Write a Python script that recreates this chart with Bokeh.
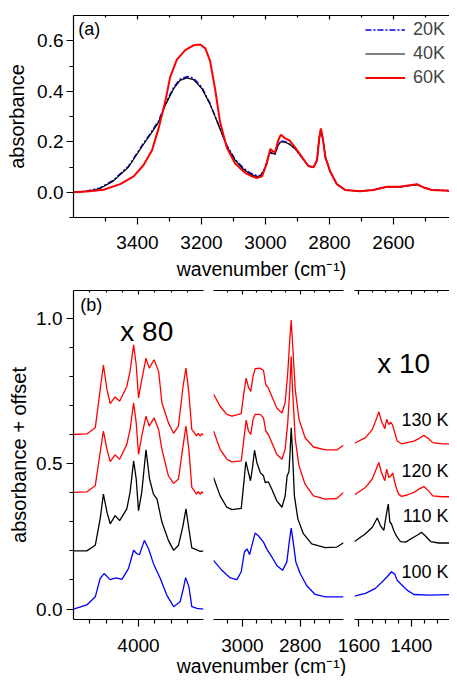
from bokeh.plotting import figure
from bokeh.layouts import column, row
from bokeh.models import Range1d, LinearAxis, FixedTicker, SingleIntervalTicker, PrintfTickFormatter, Legend, LegendItem
from bokeh.core.properties import value
from bokeh.embed import file_html
from bokeh.resources import INLINE

FONT = "Liberation Sans"

# ---------------- panel (a) data ----------------
a_wn = [3600, 3560, 3517, 3475, 3428, 3381, 3360, 3334, 3313, 3287, 3267, 3246, 3225, 3199, 3173, 3147,
        3121, 3095, 3069, 3048, 3030, 3015, 3000, 2990, 2985, 2977, 2970, 2961, 2952, 2938, 2925, 2907,
        2886, 2866, 2850, 2839, 2832, 2827, 2821, 2813, 2798, 2777, 2751, 2704, 2663, 2621, 2579, 2527,
        2506, 2480, 2400]
a_20K = [0.0, 0.004, 0.017, 0.048, 0.103, 0.195, 0.232, 0.283, 0.35, 0.415, 0.448, 0.458, 0.452, 0.416, 0.35, 0.268,
         0.186, 0.13, 0.096, 0.076, 0.067, 0.066, 0.1, 0.148, 0.158, 0.151, 0.15, 0.188, 0.203, 0.2, 0.191, 0.172,
         0.137, 0.104, 0.099, 0.127, 0.214, 0.248, 0.212, 0.14, 0.083, 0.032, 0.009, 0.004, 0.01, 0.021, 0.022, 0.031,
         0.02, 0.009, 0.005]
a_40K = [0.0, 0.003, 0.015, 0.045, 0.10, 0.19, 0.228, 0.278, 0.345, 0.41, 0.443, 0.453, 0.446, 0.411, 0.348, 0.266,
         0.183, 0.127, 0.091, 0.072, 0.063, 0.064, 0.1, 0.15, 0.16, 0.153, 0.152, 0.185, 0.2, 0.198, 0.19, 0.172,
         0.137, 0.104, 0.098, 0.127, 0.215, 0.25, 0.213, 0.139, 0.082, 0.032, 0.009, 0.004, 0.009, 0.021, 0.021, 0.03,
         0.019, 0.009, 0.005]
a_wn60 = [3600, 3550, 3506, 3454, 3412, 3381, 3355, 3334, 3313, 3298, 3277, 3251, 3225, 3204, 3188, 3173, 3157,
          3142, 3121, 3095, 3063, 3040, 3027, 3011, 2996, 2985, 2977, 2970, 2961, 2952, 2938, 2925, 2907, 2886,
          2866, 2850, 2839, 2832, 2827, 2821, 2813, 2798, 2777, 2751, 2704, 2663, 2621, 2579, 2527, 2506, 2480, 2400]
a_60K = [0.0, 0.004, 0.01, 0.032, 0.063, 0.108, 0.165, 0.253, 0.361, 0.456, 0.525, 0.563, 0.582, 0.585, 0.57, 0.519, 0.405,
         0.278, 0.177, 0.114, 0.076, 0.062, 0.056, 0.063, 0.114, 0.171, 0.162, 0.158, 0.203, 0.228, 0.213, 0.205, 0.177, 0.139,
         0.104, 0.099, 0.127, 0.215, 0.253, 0.215, 0.139, 0.082, 0.032, 0.009, 0.004, 0.009, 0.022, 0.022, 0.032, 0.019, 0.009, 0.005]
a_labels = ["20K", "40K", "60K"]

# ---------------- panel (b) data, segment 1 (x 80) ----------------
b1_wn_100 = [4200, 4159, 4133, 4118, 4106, 4087, 4069, 4051, 4031, 4015, 4005, 3997, 3982, 3969, 3954, 3933,
             3913, 3892, 3872, 3862, 3855, 3845, 3836, 3820, 3800]
b1_100 = [0.0, 0.014, 0.042, 0.105, 0.122, 0.101, 0.107, 0.102, 0.139, 0.202, 0.19, 0.187, 0.236, 0.207, 0.156, 0.105,
          0.048, 0.008, 0.025, 0.07, 0.108, 0.077, 0.008, 0.002, 0.0]
b1_wn_110 = [4200, 4159, 4133, 4118, 4108, 4097, 4087, 4072, 4058, 4036, 4026, 4015, 4007, 4000, 3990, 3977,
             3966, 3954, 3943, 3928, 3908, 3892, 3877, 3863, 3854, 3845, 3836, 3820, 3810, 3800]
b1_110 = [0.2, 0.2, 0.219, 0.31, 0.395, 0.333, 0.293, 0.321, 0.304, 0.344, 0.401, 0.509, 0.447, 0.338, 0.401, 0.547,
          0.447, 0.395, 0.378, 0.299, 0.236, 0.2015, 0.219, 0.287, 0.344, 0.276, 0.21, 0.203, 0.198, 0.2]
b1_wn_red = [4200, 4159, 4133, 4118, 4108, 4097, 4087, 4072, 4058, 4036, 4026, 4015, 4007, 4000, 3990, 3977,
             3967, 3952, 3938, 3928, 3908, 3892, 3877, 3863, 3854, 3845, 3836, 3828, 3822, 3816, 3810, 3805, 3800]
b1_120 = [0.401, 0.403, 0.424, 0.538, 0.612, 0.549, 0.507, 0.53, 0.515, 0.566, 0.617, 0.709, 0.64, 0.532, 0.594, 0.663,
          0.629, 0.657, 0.617, 0.549, 0.458, 0.432, 0.447, 0.56, 0.629, 0.549, 0.418, 0.406, 0.395, 0.404, 0.394, 0.403, 0.398]
b1_130 = [0.6, 0.602, 0.623, 0.754, 0.839, 0.754, 0.706, 0.729, 0.714, 0.765, 0.817, 0.908, 0.839, 0.726, 0.788, 0.862,
          0.828, 0.857, 0.817, 0.709, 0.64, 0.604, 0.629, 0.765, 0.828, 0.743, 0.617, 0.606, 0.595, 0.604, 0.594, 0.603, 0.598]

# ---------------- segment 2 ----------------
b2_wn_100 = [3100, 3071, 3042, 3019, 3004, 2993, 2984, 2975, 2967, 2956, 2944, 2927, 2915, 2898, 2881, 2861,
             2846, 2838, 2831, 2824, 2815, 2800, 2777, 2748, 2713, 2650]
b2_100 = [0.167, 0.133, 0.107, 0.101, 0.128, 0.196, 0.207, 0.187, 0.219, 0.261, 0.251, 0.23, 0.205, 0.179, 0.15, 0.133,
          0.162, 0.23, 0.278, 0.23, 0.162, 0.122, 0.08, 0.05, 0.042, 0.042]
b2_wn_110 = [3100, 3077, 3054, 3036, 3004, 2996, 2988, 2979, 2972, 2965, 2958, 2950, 2938, 2927, 2921, 2910,
             2898, 2881, 2863, 2852, 2845, 2839, 2835, 2831, 2827, 2820, 2808, 2789, 2760, 2713, 2673, 2650]
b2_110 = [0.452, 0.389, 0.35, 0.342, 0.346, 0.424, 0.507, 0.469, 0.441, 0.486, 0.546, 0.504, 0.469, 0.458, 0.435, 0.437,
          0.412, 0.372, 0.35, 0.389, 0.458, 0.471, 0.538, 0.623, 0.549, 0.389, 0.31, 0.259, 0.224, 0.211, 0.213, 0.228]
b2_wn_red = [3100, 3077, 3054, 3036, 3004, 2995, 2987, 2979, 2971, 2963, 2956, 2938, 2927, 2919, 2910, 2898,
             2881, 2863, 2852, 2843, 2836, 2831, 2827, 2817, 2804, 2783, 2754, 2713, 2673, 2650]
b2_120 = [0.612, 0.549, 0.515, 0.506, 0.509, 0.583, 0.649, 0.612, 0.6, 0.652, 0.669, 0.669, 0.657, 0.612, 0.6, 0.572,
          0.532, 0.515, 0.549, 0.64, 0.754, 0.868, 0.765, 0.583, 0.492, 0.429, 0.389, 0.378, 0.38, 0.401]
b2_130 = [0.739, 0.697, 0.669, 0.663, 0.672, 0.743, 0.794, 0.763, 0.748, 0.8, 0.826, 0.828, 0.82, 0.771, 0.76, 0.731,
          0.691, 0.674, 0.709, 0.811, 0.925, 0.993, 0.925, 0.754, 0.652, 0.589, 0.557, 0.547, 0.547, 0.563]

# ---------------- segment 3 (x 10) ----------------
b3_wn_100 = [1617, 1575, 1537, 1511, 1492, 1476, 1463, 1454, 1435, 1416, 1390, 1333, 1230]
b3_100 = [0.044, 0.054, 0.071, 0.094, 0.111, 0.128, 0.12, 0.099, 0.082, 0.065, 0.05, 0.048, 0.05]
b3_wn_110 = [1617, 1575, 1549, 1530, 1518, 1505, 1496, 1488, 1482, 1476, 1467, 1458, 1450, 1441, 1422, 1396,
             1373, 1361, 1346, 1326, 1295, 1230]
b3_110 = [0.232, 0.259, 0.281, 0.313, 0.287, 0.27, 0.321, 0.361, 0.299, 0.293, 0.27, 0.253, 0.242, 0.232, 0.23, 0.244,
          0.256, 0.264, 0.251, 0.232, 0.227, 0.227]
b3_wn_red = [1617, 1575, 1549, 1534, 1524, 1514, 1501, 1494, 1486, 1478, 1471, 1463, 1454, 1448, 1437, 1416,
             1390, 1371, 1352, 1335, 1318, 1282, 1230]
b3_120 = [0.393, 0.418, 0.447, 0.481, 0.504, 0.469, 0.441, 0.481, 0.452, 0.458, 0.467, 0.435, 0.407, 0.395, 0.387, 0.392,
          0.401, 0.412, 0.421, 0.407, 0.389, 0.386, 0.386]
b3_130 = [0.57, 0.589, 0.617, 0.652, 0.678, 0.646, 0.62, 0.652, 0.634, 0.642, 0.631, 0.606, 0.577, 0.574, 0.568, 0.572,
          0.577, 0.586, 0.597, 0.586, 0.572, 0.568, 0.568]

temp_labels = ["130 K", "120 K", "110 K", "100 K"]
temp_label_y = [0.651, 0.475, 0.321, 0.128]
temp_label_x = [1258, 1258, 1258, 1258]

BLUE = "#0000ff"
RED = "#ff0000"
BLACK = "#000000"


def base_style(p, transparent=False):
    if transparent:
        p.background_fill_color = None
        p.border_fill_color = None
    else:
        p.background_fill_color = "white"
        p.border_fill_color = "white"
    p.outline_line_color = None
    p.xgrid.visible = False
    p.ygrid.visible = False


def style_axis(ax, standoff=3, label_standoff=5, title_size="20px"):
    ax.axis_line_color = "black"
    ax.axis_line_width = 1.2
    ax.major_tick_line_color = "black"
    ax.major_tick_line_width = 1.2
    ax.minor_tick_line_color = "black"
    ax.minor_tick_line_width = 1.2
    ax.major_tick_out = 7
    ax.major_tick_in = 0
    ax.minor_tick_out = 4
    ax.minor_tick_in = 0
    ax.major_label_text_font = FONT
    ax.major_label_text_font_size = "19px"
    ax.major_label_text_color = "black"
    ax.major_label_standoff = standoff
    ax.axis_label_text_font = FONT
    ax.axis_label_text_font_size = title_size
    ax.axis_label_text_font_style = "normal"
    ax.axis_label_text_color = "black"
    ax.axis_label_standoff = label_standoff


def add_top_axis(p, ticks, minor):
    ax = LinearAxis(ticker=FixedTicker(ticks=ticks, minor_ticks=minor))
    ax.axis_line_color = "black"
    ax.axis_line_width = 1.2
    ax.major_tick_line_color = "black"
    ax.major_tick_line_width = 1.2
    ax.minor_tick_line_color = "black"
    ax.minor_tick_line_width = 1.2
    ax.major_tick_in = 4
    ax.major_tick_out = 0
    ax.minor_tick_in = 2
    ax.minor_tick_out = 0
    ax.major_label_text_color = None
    ax.major_label_text_font_size = "0px"
    ax.major_label_standoff = 0
    p.add_layout(ax, "above")


# ---------------- panel (a) ----------------
pA = figure(width=449, height=282, x_range=Range1d(3600, 2425), y_range=Range1d(-0.1, 0.7),
            output_backend="svg", toolbar_location=None,
            min_border_left=73, min_border_right=0, min_border_top=15, min_border_bottom=56)
base_style(pA)
a_ticks = [3400, 3200, 3000, 2800, 2600]
a_minor = [3500, 3300, 3100, 2900, 2700, 2500]
pA.xaxis.ticker = FixedTicker(ticks=a_ticks, minor_ticks=a_minor)
pA.yaxis.ticker = SingleIntervalTicker(interval=0.2, num_minor_ticks=2)
pA.yaxis.formatter = PrintfTickFormatter(format="%.1f")
style_axis(pA.xaxis[0], standoff=11, label_standoff=6, title_size="19.5px")
style_axis(pA.yaxis[0], standoff=3, label_standoff=6, title_size="20px")
pA.xaxis.axis_label = "wavenumber (cm\u207b\u00b9)"
pA.yaxis.axis_label = "absorbance"
add_top_axis(pA, a_ticks, a_minor)

r20 = pA.line(a_wn, a_20K, line_color=BLUE, line_width=1.5, line_dash="6 2 2 2")
r40 = pA.line(a_wn, a_40K, line_color=BLACK, line_width=1.2)
r60 = pA.line(a_wn60, a_60K, line_color=RED, line_width=2.0)
pA.text(x=[3585], y=[0.645], text=["(a)"], text_font=value(FONT), text_font_size="18px",
        text_align="left", text_baseline="middle", text_color="black")

legend = Legend(items=[LegendItem(label=a_labels[0], renderers=[r20]),
                       LegendItem(label=a_labels[1], renderers=[r40]),
                       LegendItem(label=a_labels[2], renderers=[r60])],
                location="top_right")
legend.label_text_font = FONT
legend.label_text_font_size = "18px"
legend.glyph_width = 40
legend.glyph_height = 21
legend.label_height = 21
legend.label_width = 32
legend.label_standoff = 8
legend.spacing = 3
legend.padding = 3
legend.margin = 4
legend.border_line_color = None
legend.background_fill_alpha = 0
pA.add_layout(legend)

# ---------------- panel (b) ----------------
YB = (-0.036, 1.095)
common = dict(height=372, y_range=Range1d(*YB), output_backend="svg", toolbar_location=None,
              min_border_top=8, min_border_bottom=33)

pb1 = figure(width=208, x_range=Range1d(4200, 3800), min_border_left=73, min_border_right=5, **common)
pb2 = figure(width=140, x_range=Range1d(3100, 2650), min_border_left=5, min_border_right=5,
             y_axis_location=None, **common)
pb3 = figure(width=117, x_range=Range1d(1617, 1254), min_border_left=22, min_border_right=0,
             y_axis_location=None, margin=(0, 0, 0, -16), **common)
base_style(pb1)
base_style(pb2)
base_style(pb3, transparent=True)

b1_ticks, b1_minor = [4000], [4150, 4100, 4050, 3950, 3900, 3850]
b2_ticks, b2_minor = [3000, 2800], [3050, 2950, 2900, 2850, 2750, 2700]
b3_ticks, b3_minor = [1600, 1400], [1550, 1500, 1450, 1350, 1300]
for p, t, m in ((pb1, b1_ticks, b1_minor), (pb2, b2_ticks, b2_minor), (pb3, b3_ticks, b3_minor)):
    p.xaxis.ticker = FixedTicker(ticks=t, minor_ticks=m)
    style_axis(p.xaxis[0], standoff=12)
    add_top_axis(p, t, m)

pb1.yaxis.ticker = SingleIntervalTicker(interval=0.5, num_minor_ticks=5)
pb1.yaxis.formatter = PrintfTickFormatter(format="%.1f")
style_axis(pb1.yaxis[0], standoff=4, label_standoff=3, title_size="20px")
pb1.yaxis.axis_label = "absorbance + offset"

LW = 1.3
pb1.line(b1_wn_100, b1_100, line_color=BLUE, line_width=LW)
pb1.line(b1_wn_110, b1_110, line_color=BLACK, line_width=LW)
pb1.line(b1_wn_red, b1_120, line_color=RED, line_width=LW)
pb1.line(b1_wn_red, b1_130, line_color=RED, line_width=LW)
pb1.text(x=[4179], y=[1.044], text=["(b)"], text_font=value(FONT), text_font_size="18px",
         text_align="left", text_baseline="middle", text_color="black")
pb1.text(x=[4056], y=[0.953], text=["x 80"], text_font=value(FONT), text_font_size="28px",
         text_align="left", text_baseline="middle", text_color="black")

pb2.line(b2_wn_100, b2_100, line_color=BLUE, line_width=LW)
pb2.line(b2_wn_110, b2_110, line_color=BLACK, line_width=LW)
pb2.line(b2_wn_red, b2_120, line_color=RED, line_width=LW)
pb2.line(b2_wn_red, b2_130, line_color=RED, line_width=LW)

pb3.line(b3_wn_100, b3_100, line_color=BLUE, line_width=LW)
pb3.line(b3_wn_110, b3_110, line_color=BLACK, line_width=LW)
pb3.line(b3_wn_red, b3_120, line_color=RED, line_width=LW)
pb3.line(b3_wn_red, b3_130, line_color=RED, line_width=LW)
pb3.text(x=[1530], y=[0.845], text=["x 10"], text_font=value(FONT), text_font_size="28px",
         text_align="left", text_baseline="middle", text_color="black")
pb3.text(x=temp_label_x, y=temp_label_y, text=temp_labels, text_font=value(FONT), text_font_size="18px",
         text_align="right", text_baseline="middle", text_color="black")

# ---------------- shared x title for panel (b) ----------------
pT = figure(width=449, height=32, x_range=Range1d(0, 1), y_range=Range1d(0, 1),
            output_backend="svg", toolbar_location=None, x_axis_location=None, y_axis_location=None,
            min_border_left=73, min_border_right=0, min_border_top=0, min_border_bottom=0,
            margin=(-10, 0, 0, 0))
base_style(pT, transparent=True)
pT.text(x=[0.5], y=[0.34], text=["wavenumber (cm\u207b\u00b9)"], text_font=value(FONT), text_font_size="19.5px",
        text_align="center", text_baseline="middle", text_color="black")

layout = column(pA, row(pb1, pb2, pb3), pT)
open("out.html", "w").write(file_html(layout, INLINE))
